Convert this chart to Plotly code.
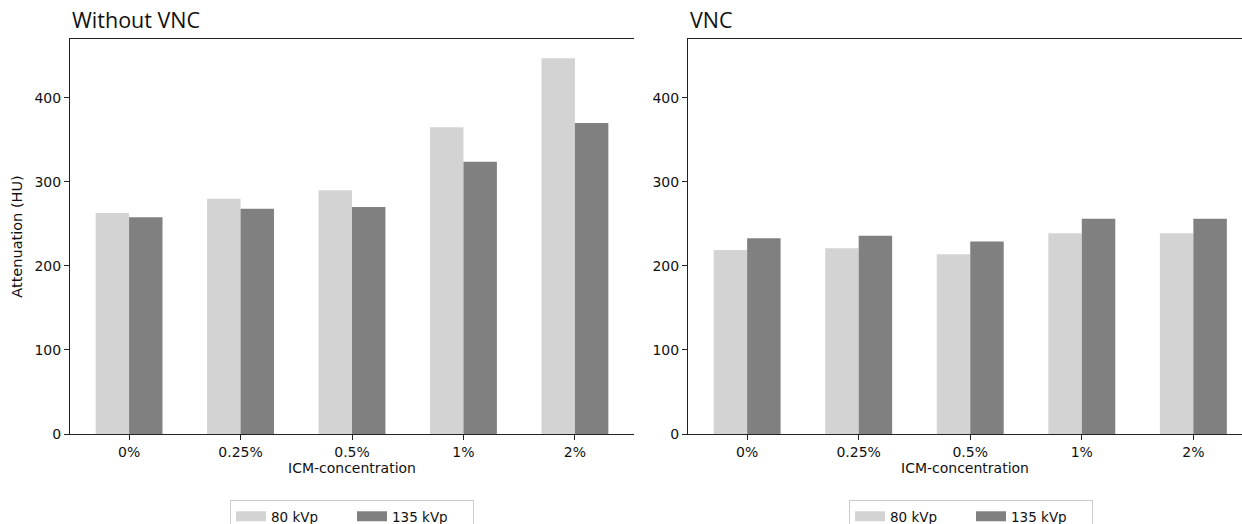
import plotly.graph_objects as go

categories = ["0%", "0.25%", "0.5%", "1%", "2%"]
series_names = ["80 kVp", "135 kVp"]
without_vnc_80 = [263, 280, 290, 365, 447]
without_vnc_135 = [258, 268, 270, 324, 370]
vnc_80 = [219, 221, 214, 239, 239]
vnc_135 = [233, 236, 229, 256, 256]
y_ticks = [0, 100, 200, 300, 400]
panel_titles = ["Without VNC", "VNC"]
x_title = "ICM-concentration"
y_title = "Attenuation (HU)"

colors = ["#d3d3d3", "#808080"]
W, H = 1242, 524
ML, MR, MT, MB = 70, 0, 39, 90
pw = W - ML - MR
ph = H - MT - MB

def px2x(px):
    return (px - ML) / pw

def py2y(py):
    return (H - MB - py) / ph

fig = go.Figure()
panels = [
    ("x", "y", "legend", [without_vnc_80, without_vnc_135]),
    ("x2", "y2", "legend2", [vnc_80, vnc_135]),
]
for xa, ya, lg, data in panels:
    for i, vals in enumerate(data):
        fig.add_trace(go.Bar(x=categories, y=vals, name=series_names[i], marker_color=colors[i],
                             marker_line_width=0, xaxis=xa, yaxis=ya, showlegend=False))
    # legend entries drawn as wide patches (thick line symbols)
    for i in range(2):
        fig.add_trace(go.Scatter(x=[None], y=[None], mode="lines", name=series_names[i],
                                 line=dict(color=colors[i], width=10), xaxis=xa, yaxis=ya,
                                 legend=lg, hoverinfo="skip"))

font_fam = "DejaVu Sans"
tick_font = dict(family=font_fam, size=14, color="#111")
axis_common = dict(showgrid=False, zeroline=False, showline=True, linecolor="#222", linewidth=1,
                   ticks="outside", ticklen=5, tickcolor="#222", tickfont=tick_font, automargin=False)

d1 = [0, px2x(634)]
d2 = [px2x(688), 1]
legend_common = dict(orientation="h", xanchor="center", y=py2y(500), yanchor="top",
                     bordercolor="#cccccc", borderwidth=1,
                     font=dict(family=font_fam, size=13.5, color="#111"),
                     itemwidth=30, entrywidth=76, entrywidthmode="pixels", tracegroupgap=0)
fig.update_layout(
    width=W, height=H,
    margin=dict(l=ML, r=MR, t=MT, b=MB, autoexpand=False),
    paper_bgcolor="white", plot_bgcolor="white",
    barmode="group", bargap=0.4, bargroupgap=0,
    xaxis=dict(domain=d1, range=[-0.53, 4.53], anchor="y", mirror=True,
               title=dict(text=x_title, font=dict(family=font_fam, size=14, color="#111"), standoff=2),
               **axis_common),
    yaxis=dict(domain=[0, 1], range=[0, 470], anchor="x", tickvals=y_ticks,
               title=dict(text=y_title, font=dict(family=font_fam, size=14.5, color="#111"), standoff=8),
               **axis_common),
    xaxis2=dict(domain=d2, range=[-0.53, 4.436], anchor="y2", mirror=True,
                title=dict(text=x_title, font=dict(family=font_fam, size=14, color="#111"), standoff=2),
                **axis_common),
    yaxis2=dict(domain=[0, 1], range=[0, 470], anchor="x2", tickvals=y_ticks, **axis_common),
    legend=dict(x=px2x(352), **legend_common),
    legend2=dict(x=px2x(971), **legend_common),
    annotations=[
        dict(text=panel_titles[0], xref="paper", yref="paper", x=d1[0], y=1, xanchor="left", yanchor="bottom",
             yshift=3, showarrow=False, font=dict(family="Open Sans", size=21.5, color="#111")),
        dict(text=panel_titles[1], xref="paper", yref="paper", x=d2[0], y=1, xanchor="left", yanchor="bottom",
             yshift=3, showarrow=False, font=dict(family="Open Sans", size=21.5, color="#111")),
    ],
)

fig.write_html("out.html", config={"displayModeBar": False},
               post_script="document.body.style.margin='0';document.body.style.overflow='hidden';")
